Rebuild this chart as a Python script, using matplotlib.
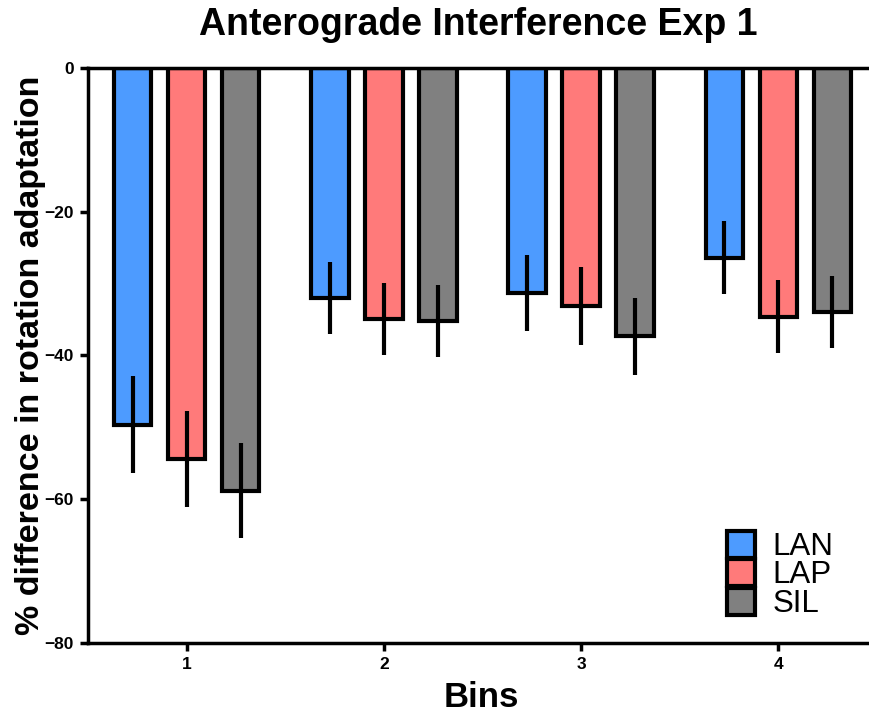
import matplotlib
matplotlib.use("Agg")
import matplotlib.pyplot as plt
import numpy as np

plt.rcParams['font.family'] = ['Liberation Sans', 'DejaVu Sans']

bins = ['1', '2', '3', '4']
groups = ['LAN', 'LAP', 'SIL']
lan = [-49.6, -32.0, -31.3, -26.4]
lap = [-54.4, -34.9, -33.1, -34.6]
sil = [-58.8, -35.2, -37.3, -33.9]
lan_err = [6.7, 5.0, 5.3, 5.1]
lap_err = [6.7, 5.0, 5.4, 5.1]
sil_err = [6.6, 5.0, 5.35, 5.0]
colors = ['#4d9bff', '#ff7a7a', '#808080']

fig = plt.figure(figsize=(8.69, 7.17), dpi=100)
ax = fig.add_axes([88/869, 1-643/717, 1-88/869, 575/717])

x = np.arange(1, len(bins) + 1)
offs = [-0.274, 0.0, 0.274]
width = 0.19
for vals, errs, c, o, name in zip([lan, lap, sil], [lan_err, lap_err, sil_err], colors, offs, groups):
    ax.bar(x + o, vals, width, color=c, edgecolor='black', linewidth=3, label=name, zorder=2)
    ax.errorbar(x + o, vals, yerr=errs, fmt='none', ecolor='black', elinewidth=3, capsize=0, zorder=3)

ax.set_xlim(0.5, 4.46)
ax.set_ylim(-80, 0)
ax.set_yticks([0, -20, -40, -60, -80])
ax.set_xticks(x)
ax.set_xticklabels(bins)
for s in ['left', 'bottom', 'top']:
    ax.spines[s].set_linewidth(2.5)
ax.spines['right'].set_visible(False)
ax.tick_params(axis='both', width=2.5, length=6, labelsize=12.5, pad=4)
for lab in ax.get_xticklabels() + ax.get_yticklabels():
    lab.set_fontweight('bold')

ax.set_title('Anterograde Interference Exp 1', fontsize=27, fontweight='bold', y=1.075, pad=0, va='center')
ax.set_xlabel('Bins', fontsize=25, fontweight='bold', va='center')
ax.xaxis.set_label_coords(0.503, -0.095)
ax.set_ylabel('% difference in rotation adaptation', fontsize=24.5, fontweight='bold', va='center')
ax.yaxis.set_label_coords(-0.074, 0.5)

leg = ax.legend(loc='lower right', bbox_to_anchor=(0.97, 0.02), frameon=False, fontsize=22.5,
                handlelength=0.9, handleheight=0.95, labelspacing=-0.085, handletextpad=0.55,
                borderaxespad=0)

fig.savefig('out.png', dpi=100)
